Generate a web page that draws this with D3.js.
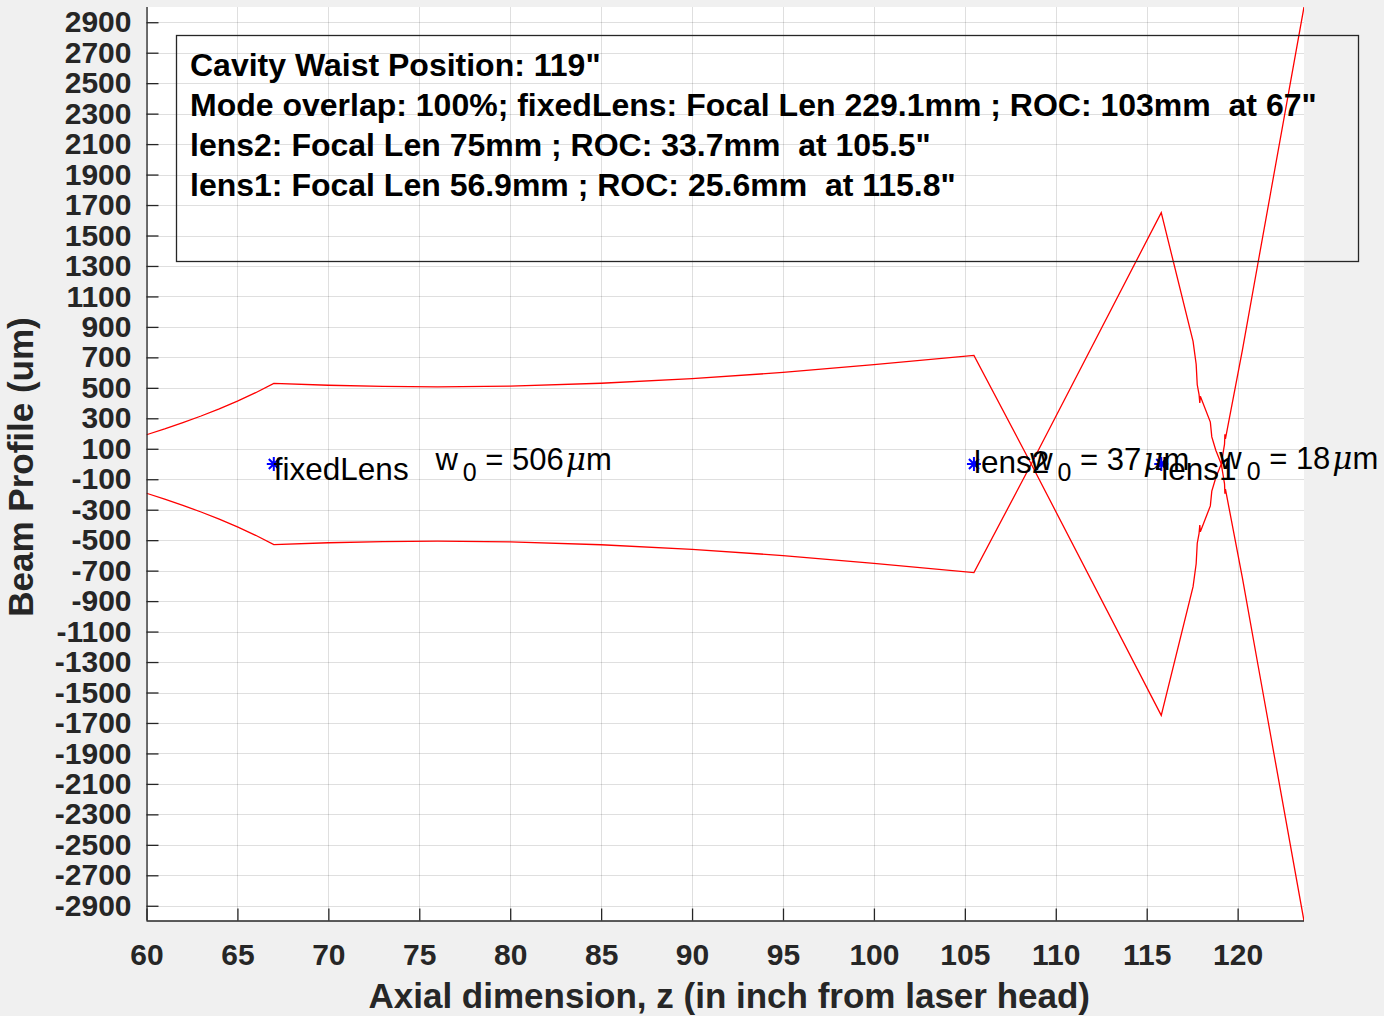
<!DOCTYPE html>
<html>
<head>
<meta charset="utf-8">
<title>Beam Profile</title>
<style>
  html, body { margin: 0; padding: 0; background: #f0f0f0; }
  svg { display: block; }
  text { font-family: "Liberation Sans", Arial, Helvetica, sans-serif; }
</style>
</head>
<body>
<script src="https://cdn.jsdelivr.net/npm/d3@7"></script>
<script>
// beam radius (um) along z (inch), signed: the -w copy is drawn as well
var zPos  = [60, 61, 62, 63, 64, 65, 66, 67, 70, 73, 76, 80, 85, 90, 95, 100, 105.5,
             108.65, 115.8, 117.55, 117.72, 117.78, 117.88, 117.92, 117.95, 118.5, 118.58, 118.8,
             119.1, 119.28, 119.3, 119.33, 120.26, 121.13, 123.65];
var beamW = [192, 230, 272, 315, 362, 413, 468, 529, 517, 509, 506, 511, 530, 560, 601, 652, 713,
             0, -1650, -805, -655, -520, -455, -400, -445, -275, -178, -90,
             0, 130, 195, 165, 746, 1326, 3000];

var xTicks = [60, 65, 70, 75, 80, 85, 90, 95, 100, 105, 110, 115, 120];
var yTicks = [-2900, -2700, -2500, -2300, -2100, -1900, -1700, -1500, -1300, -1100, -900, -700, -500, -300, -100,
              100, 300, 500, 700, 900, 1100, 1300, 1500, 1700, 1900, 2100, 2300, 2500, 2700, 2900];

var lensNames = ["fixedLens", "lens2", "lens1"];
var lensZ     = [67, 105.5, 115.8];
var lensTextY = [-30, 15, -35];
var waistZ    = [76, 108.7, 119.1];
var waistUm   = [506, 37, 18];
var waistTextY = [30, 30, 40];

var infoLines = [
  "Cavity Waist Position: 119\"",
  "Mode overlap: 100%; fixedLens: Focal Len 229.1mm ; ROC: 103mm  at 67\"",
  "lens2: Focal Len 75mm ; ROC: 33.7mm  at 105.5\"",
  "lens1: Focal Len 56.9mm ; ROC: 25.6mm  at 115.8\""
];

var W = 1384, H = 1016;
var pLeft = 146.5, pRight = 1304, pTop = 7, pBottom = 921;
var ink = "#262626";

var svg = d3.select("body").append("svg")
    .attr("width", W)
    .attr("height", H);

svg.append("rect").attr("width", W).attr("height", H).attr("fill", "#f0f0f0");

var x = d3.scaleLinear().domain([60, 123.65]).range([pLeft, pRight]);
var y = d3.scaleLinear().domain([-3000, 3000]).range([pBottom, pTop]);

// plot area
svg.append("rect")
    .attr("x", pLeft).attr("y", pTop)
    .attr("width", pRight - pLeft).attr("height", pBottom - pTop)
    .attr("fill", "#fff");

// grid
svg.append("g").selectAll("line")
    .data(xTicks).enter().append("line")
    .attr("x1", function(d){ return Math.round(x(d)) + 0.5; })
    .attr("x2", function(d){ return Math.round(x(d)) + 0.5; })
    .attr("y1", pTop).attr("y2", pBottom)
    .attr("stroke", ink).attr("stroke-opacity", 0.15);

svg.append("g").selectAll("line")
    .data(yTicks).enter().append("line")
    .attr("y1", function(d){ return Math.round(y(d)) + 0.5; })
    .attr("y2", function(d){ return Math.round(y(d)) + 0.5; })
    .attr("x1", pLeft).attr("x2", pRight)
    .attr("stroke", ink).attr("stroke-opacity", 0.15);

// beam curves
svg.append("clipPath").attr("id", "plotclip")
  .append("rect")
    .attr("x", pLeft).attr("y", pTop)
    .attr("width", pRight - pLeft).attr("height", pBottom - pTop);

var pts = zPos.map(function(z, i){ return [z, beamW[i]]; });
var line = d3.line()
    .x(function(d){ return x(d[0]); })
    .y(function(d){ return y(d[1]); });

var curves = svg.append("g").attr("clip-path", "url(#plotclip)");
curves.append("path")
    .attr("d", line(pts))
    .attr("fill", "none").attr("stroke", "#ff0000").attr("stroke-width", 1.3);
curves.append("path")
    .attr("d", line(pts.map(function(p){ return [p[0], -p[1]]; })))
    .attr("fill", "none").attr("stroke", "#ff0000").attr("stroke-width", 1.3);

// axes
var plain = function(d){ return String(d); };
var yAxis = svg.append("g")
    .attr("transform", "translate(" + pLeft + ",0)")
    .call(d3.axisLeft(y).tickValues(yTicks).tickFormat(plain).tickSize(-12).tickPadding(15));
var xAxis = svg.append("g")
    .attr("transform", "translate(0," + (pBottom - 0.5) + ")")
    .call(d3.axisBottom(x).tickValues(xTicks).tickFormat(plain).tickSize(-12).tickPadding(23));

[yAxis, xAxis].forEach(function(ax){
  ax.select(".domain").attr("stroke", ink).attr("stroke-width", 1.3);
  ax.selectAll(".tick line").attr("stroke", ink).attr("stroke-width", 1.3);
  ax.selectAll(".tick text")
    .attr("fill", ink)
    .attr("font-size", 30)
    .attr("font-weight", "bold")
    .style("font-family", "'Liberation Sans', Arial, sans-serif");
});
yAxis.select(".domain").attr("d", "M0.5," + pTop + "V" + (pBottom - 0.5));
xAxis.select(".domain").attr("d", "M" + pLeft + ",0.5H" + pRight);

// axis titles
svg.append("text")
    .attr("x", (pLeft + pRight) / 2 + 4).attr("y", 1008)
    .attr("text-anchor", "middle")
    .attr("font-size", 35).attr("font-weight", "bold").attr("fill", ink)
    .text("Axial dimension, z (in inch from laser head)");

svg.append("text")
    .attr("transform", "translate(33," + ((pTop + pBottom) / 2 + 3) + ") rotate(-90)")
    .attr("text-anchor", "middle")
    .attr("font-size", 35).attr("font-weight", "bold").attr("fill", ink)
    .text("Beam Profile (um)");

// lens markers and names
var star = "M-7,0H7M0,-7V7M-5,-5L5,5M-5,5L5,-5";
svg.append("g").selectAll("path")
    .data(lensZ).enter().append("path")
    .attr("transform", function(d){ return "translate(" + x(d) + "," + y(0) + ")"; })
    .attr("d", star)
    .attr("stroke", "#0000ff").attr("stroke-width", 2).attr("fill", "none");

svg.append("g").selectAll("text")
    .data(lensNames).enter().append("text")
    .attr("x", function(d, i){ return x(lensZ[i]); })
    .attr("y", function(d, i){ return y(lensTextY[i]); })
    .attr("dominant-baseline", "central")
    .attr("font-size", 31.5).attr("fill", "#000")
    .text(function(d){ return d; });

// waist labels
var wl = svg.append("g").selectAll("text")
    .data(waistUm).enter().append("text")
    .attr("x", function(d, i){ return x(waistZ[i]) - 2; })
    .attr("y", function(d, i){ return y(waistTextY[i]) + 11; })
    .attr("font-size", 31).attr("fill", "#000")
    .style("white-space", "pre");
wl.append("tspan").text("w");
wl.append("tspan").attr("dy", 11).attr("dx", 5).attr("font-size", 25).text("0");
wl.append("tspan").attr("dy", -11).text(function(d){ return " = " + d; });
wl.append("tspan").attr("dx", 2).attr("font-style", "italic").style("font-family", "'DejaVu Serif', serif").text("\u03bc");
wl.append("tspan").text("m");

// info box
svg.append("rect")
    .attr("x", 176.5).attr("y", 35.5)
    .attr("width", 1182).attr("height", 226)
    .attr("fill", "none").attr("stroke", ink).attr("stroke-width", 1.3);

svg.append("g").selectAll("text")
    .data(infoLines).enter().append("text")
    .attr("x", 190)
    .attr("y", function(d, i){ return 76 + i * 40; })
    .attr("font-size", 32).attr("font-weight", "bold").attr("fill", "#000")
    .style("white-space", "pre")
    .text(function(d){ return d; });
</script>
</body>
</html>
